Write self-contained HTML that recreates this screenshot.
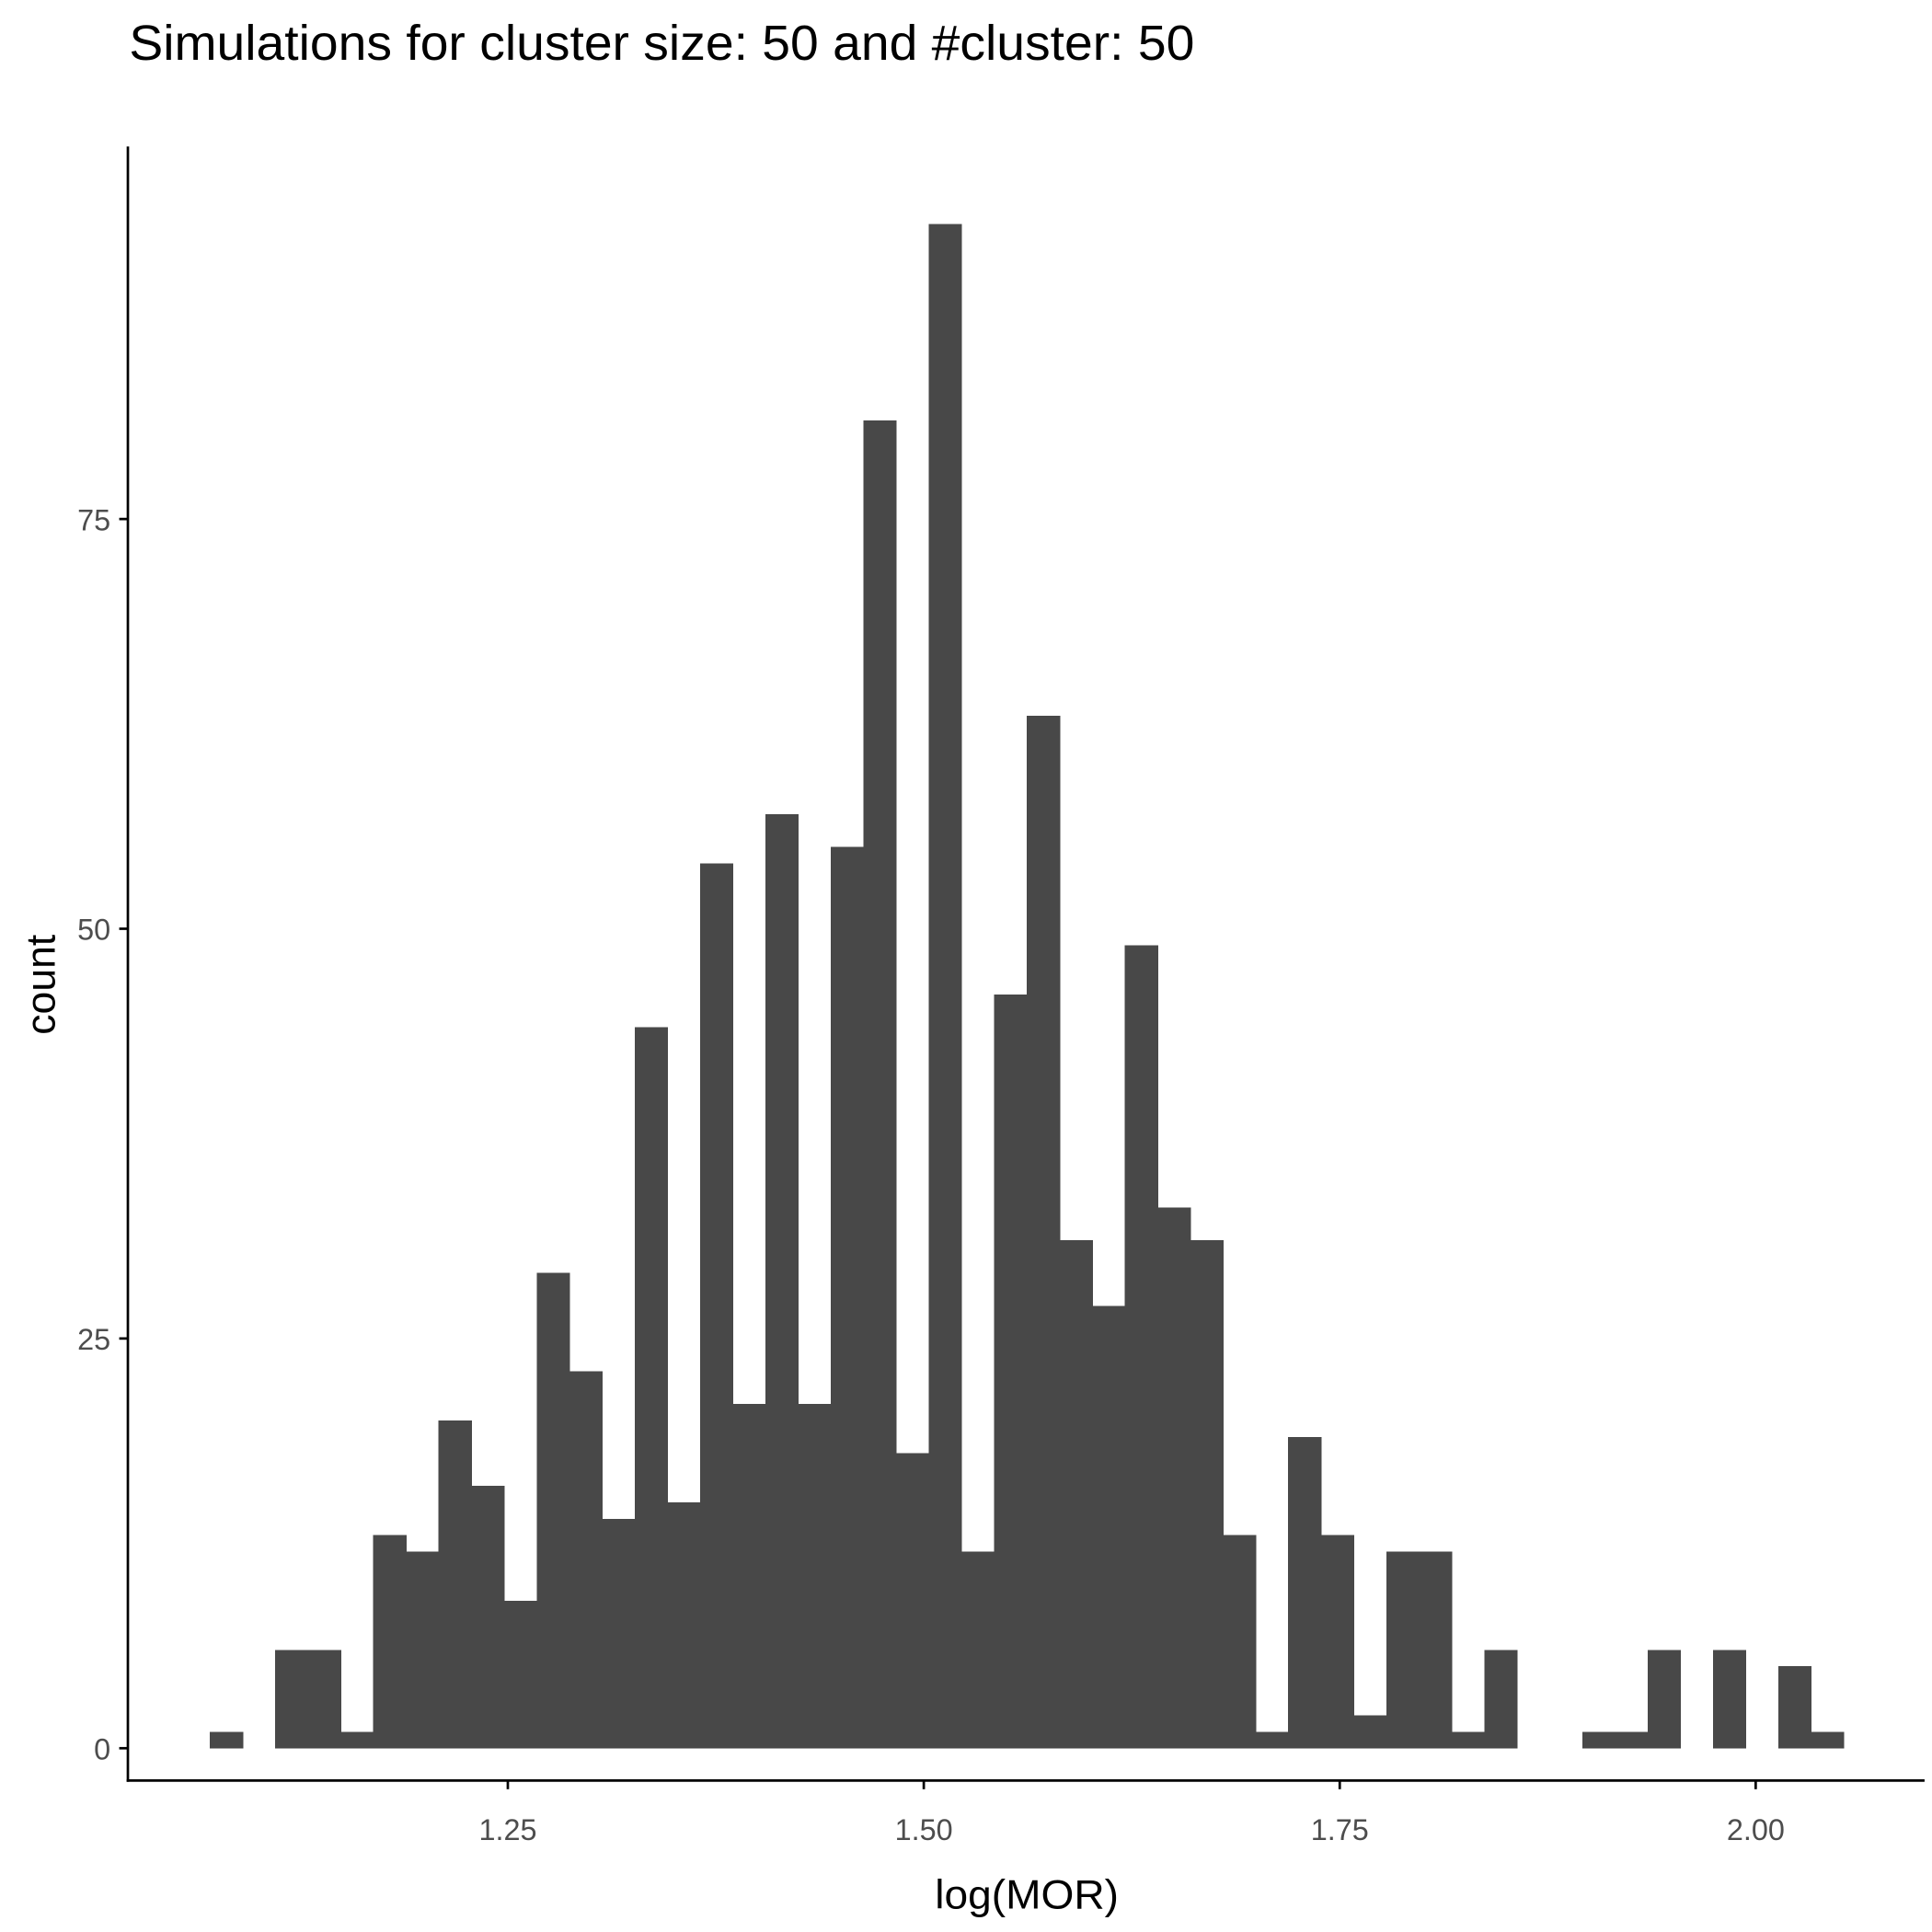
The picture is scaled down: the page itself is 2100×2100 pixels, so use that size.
<!DOCTYPE html>
<html><head><meta charset="utf-8"><style>
html,body{margin:0;padding:0;background:#fff}
svg{display:block}
text{font-family:"Liberation Sans",Arial,sans-serif}
</style></head><body>
<svg id="chart" width="2100" height="2100" viewBox="0 0 1556 1556" xmlns="http://www.w3.org/2000/svg">
<text x="104" y="48" font-size="40" textLength="858" lengthAdjust="spacingAndGlyphs" fill="#000">Simulations for cluster size: 50 and #cluster: 50</text>
<g id="bars" shape-rendering="crispEdges"></g>
<g id="axes"></g>
<text x="827" y="1537" font-size="33" textLength="148" lengthAdjust="spacingAndGlyphs" text-anchor="middle" fill="#000">log(MOR)</text>
<text transform="translate(44,793) rotate(-90)" font-size="33" text-anchor="middle" fill="#000">count</text>
</svg>
<script>
const binStart = 1.0709;
const binWidth = 0.01964;
const counts = [1,0,6,6,1,13,12,20,16,9,29,23,14,44,15,54,21,57,21,55,81,18,93,12,46,63,31,27,49,33,31,13,1,19,13,2,12,12,1,6,0,0,1,1,6,0,6,0,5,1];
const xTicks = [1.25,1.5,1.75,2.0];
const xTickLabels = ["1.25","1.50","1.75","2.00"];
const yTicks = [0,25,50,75];
const yTickLabels = ["0","25","50","75"];

const NS="http://www.w3.org/2000/svg";
function xs(v){return 409+(v-1.25)*1340;}
function ys(v){return 1408-v*13.2;}
const bars=document.getElementById('bars');
counts.forEach((c,i)=>{
  if(c<=0) return;
  const x0=xs(binStart+i*binWidth), x1=xs(binStart+(i+1)*binWidth);
  const r=document.createElementNS(NS,'rect');
  r.setAttribute('x',x0);r.setAttribute('width',x1-x0+0.5);
  r.setAttribute('y',ys(c));r.setAttribute('height',ys(0)-ys(c));
  r.setAttribute('fill','#484848');
  
  
  bars.appendChild(r);
});
const axes=document.getElementById('axes');
function line(x1,y1,x2,y2,name){
  const l=document.createElementNS(NS,'line');
  l.setAttribute('x1',x1);l.setAttribute('y1',y1);l.setAttribute('x2',x2);l.setAttribute('y2',y2);
  l.setAttribute('stroke','#000');l.setAttribute('stroke-width','2');
  
  
  axes.appendChild(l);
}
function txt(x,y,s,anchor,name){
  const t=document.createElementNS(NS,'text');
  t.setAttribute('x',x);t.setAttribute('y',y);t.setAttribute('font-size','24');
  t.setAttribute('fill','#4d4d4d');t.setAttribute('text-anchor',anchor);
  t.textContent=s;
  
  
  axes.appendChild(t);
}
line(103,118,103,1435,'y-axis-line');
line(102,1434,1550,1434,'x-axis-line');
xTicks.forEach((v,i)=>{
  line(xs(v),1434,xs(v),1441,'x-tick');
  txt(xs(v),1482,xTickLabels[i],'middle','x-tick-label');
});
yTicks.forEach((v,i)=>{
  line(96,ys(v),103,ys(v),'y-tick');
  txt(89,ys(v)+9,yTickLabels[i],'end','y-tick-label');
});
</script>
</body></html>
